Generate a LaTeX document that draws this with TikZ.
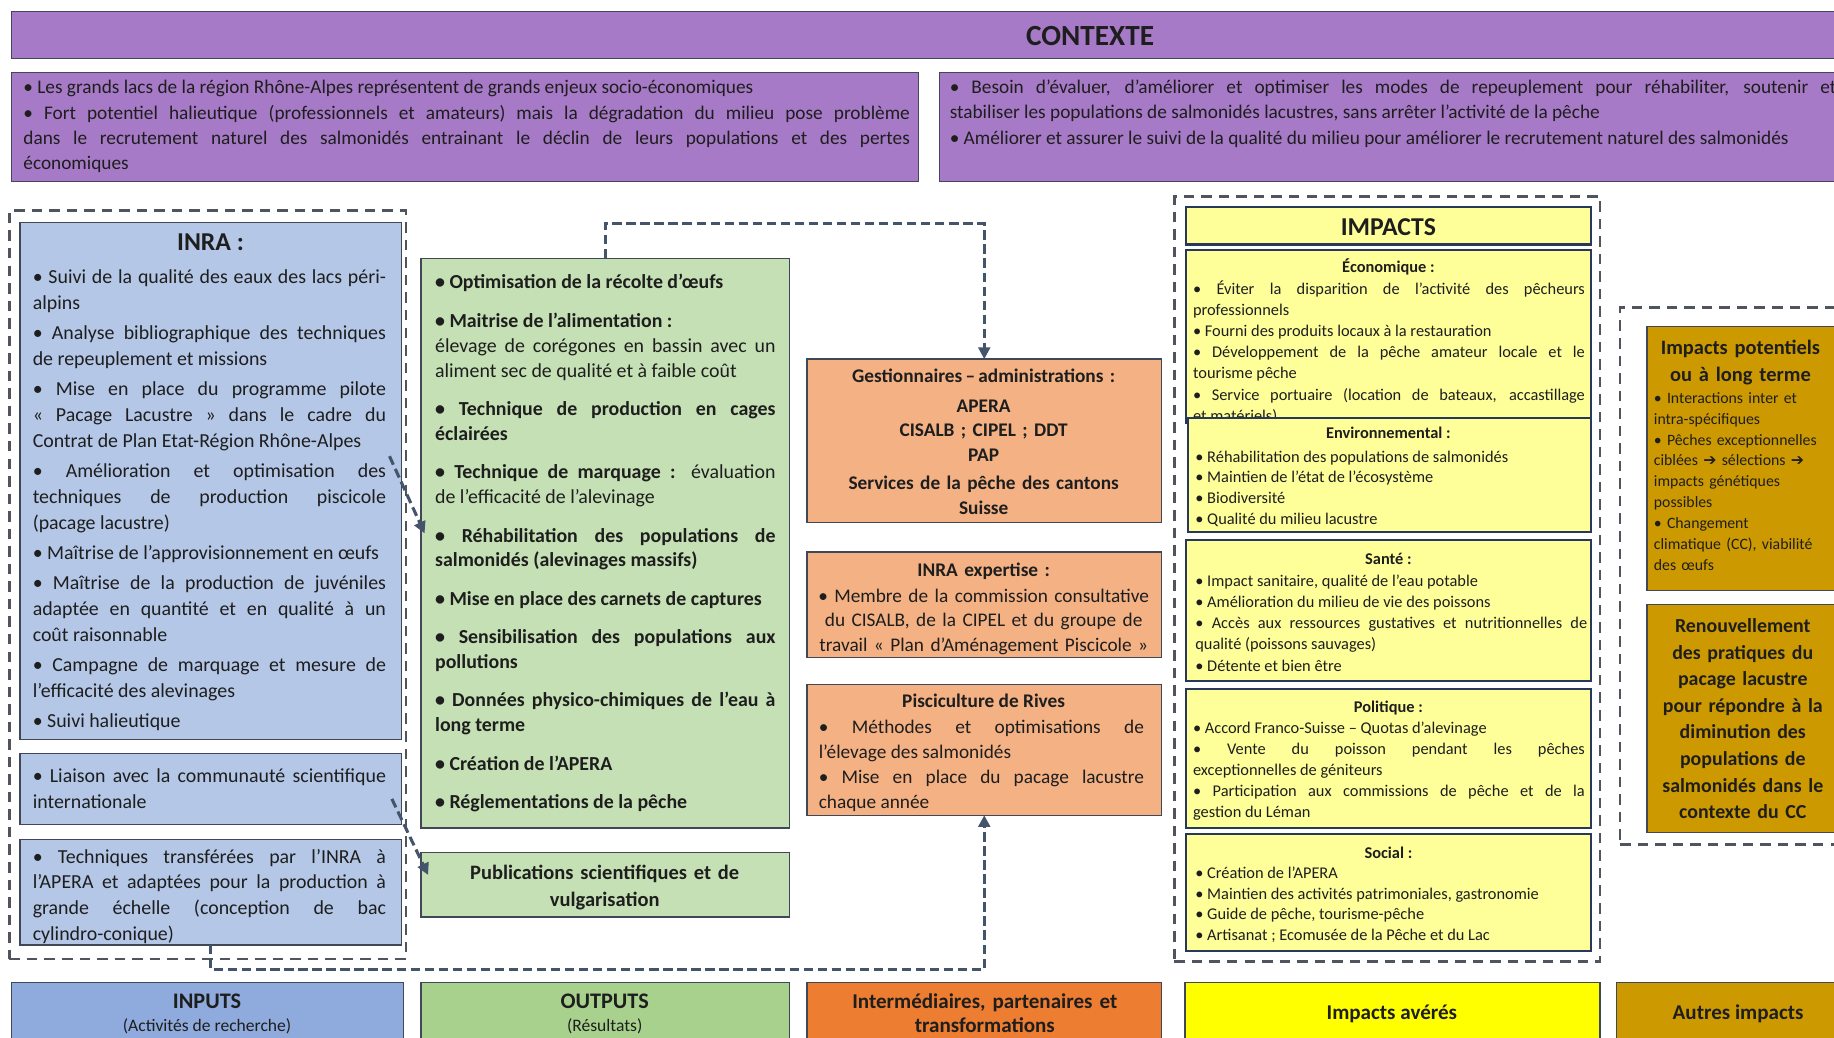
\documentclass[tikz,border=0pt]{standalone}
\usepackage{fontspec}
\setmainfont{Carlito}
\newfontfamily\symfont{DejaVu Sans}
\usetikzlibrary{arrows.meta,calc}
\definecolor{purp}{RGB}{166,122,198}
\definecolor{lblue}{RGB}{180,199,231}
\definecolor{lgreen}{RGB}{197,224,180}
\definecolor{lorange}{RGB}{244,177,131}
\definecolor{lyel}{RGB}{255,255,153}
\definecolor{gold}{RGB}{204,153,0}
\definecolor{inblue}{RGB}{143,170,220}
\definecolor{outgreen}{RGB}{169,209,142}
\definecolor{orangeb}{RGB}{237,125,49}
\definecolor{yel}{RGB}{255,255,0}
\definecolor{edgec}{RGB}{64,72,88}
\definecolor{navy}{RGB}{40,56,90}
\definecolor{dashc}{RGB}{80,84,92}
\definecolor{connc}{RGB}{68,84,106}
\definecolor{txtc}{RGB}{30,30,30}
\newcommand{\fsz}[2]{\fontsize{#1}{#2}\selectfont}
\newcommand{\jset}[3]{\fsz{#1}{#2}\setlength{\parskip}{#3}\tolerance=10000 \hbadness=10000 \hyphenpenalty=10000 \exhyphenpenalty=10000 \relax}
\newcommand{\rbox}[6]{\node[#1,minimum width={(#4)-(#2)},minimum height={(#5)-(#3)}] (#6) at (#2,#3) {};}
\tikzset{
  bx/.style={draw=edgec,line width=1.1pt,anchor=north west,inner sep=0pt,outer sep=0pt},
  ibx/.style={draw=navy,line width=1.8pt,fill=lyel,anchor=north west,inner sep=0pt,outer sep=0pt},
  grp/.style={draw=dashc,line width=2.2pt,dash pattern=on 9pt off 6pt,anchor=north west,inner sep=0pt,outer sep=0pt},
  jtxt/.style={anchor=base west,inner sep=0pt,outer sep=0pt,align=justify,text=txtc},
  ctxt/.style={anchor=base,inner sep=0pt,outer sep=0pt,align=center,text=txtc},
  ltxt/.style={anchor=base west,inner sep=0pt,outer sep=0pt,align=left,text=txtc},
  conn/.style={draw=connc,line width=2.6pt,dash pattern=on 8pt off 4pt},
  tipend/.style={-{Triangle[length=10pt,width=10pt]}},
}
\begin{document}
\begin{tikzpicture}[x=1pt,y=-1pt]
\useasboundingbox (0,0) rectangle (1568,887);
\clip (0,0) rectangle (1568,887);
\fill[white] (0,0) rectangle (1568,887);

% ---------- CONTEXTE ----------
\rbox{bx,fill=purp}{10}{10}{1600}{50}{ctxtitle}
\node[ctxt,font=\bfseries\fsz{25}{30}] (ctxtitle-t) at (932,39) {CONTEXTE};
\rbox{bx,fill=purp}{10}{62}{785}{155}{ctx1}
\rbox{bx,fill=purp}{803}{62}{1600}{155}{ctx2}
\node[jtxt,text width=758] (ctx1-t) at (20,80) {\jset{16.5}{21.3}{1pt}%
• Les grands lacs de la région Rhône-Alpes représentent de grands enjeux socio-économiques\par
• Fort potentiel halieutique (professionnels et amateurs) mais la dégradation du milieu pose problème \linebreak dans le recrutement naturel des salmonidés entrainant le déclin de leurs populations et des pertes \linebreak économiques\par};
\node[jtxt,text width=758] (ctx2-t) at (812,80) {\jset{16.5}{21.3}{1pt}%
• Besoin d’évaluer, d’améliorer et optimiser les modes de repeuplement pour réhabiliter, soutenir et \linebreak stabiliser les populations de salmonidés lacustres, sans arrêter l’activité de la pêche\par
• Améliorer et assurer le suivi de la qualité du milieu pour améliorer le recrutement naturel des salmonidés\par};

% ---------- INPUTS column ----------
\rbox{grp}{8}{180}{347}{820}{grpin}
\rbox{bx,fill=lblue}{17}{190}{343}{632}{inra}
\node[ctxt,font=\bfseries\fsz{22}{26}] (inra-title) at (180,214) {INRA :};
\node[jtxt,text width=302] (inra-t) at (28,242) {\jset{17}{22.2}{3.6pt}%
• Suivi de la qualité des eaux des lacs péri-\linebreak alpins\par
• Analyse bibliographique des techniques \linebreak de repeuplement et missions\par
• Mise en place du programme pilote \linebreak «~Pacage Lacustre~» dans le cadre du \linebreak Contrat de Plan Etat-Région Rhône-Alpes\par
• Amélioration et optimisation des \linebreak techniques de production piscicole \linebreak (pacage lacustre)\par
• Maîtrise de l’approvisionnement en œufs\par
• Maîtrise de la production de juvéniles \linebreak adaptée en quantité et en qualité à un \linebreak coût raisonnable\par
• Campagne de marquage et mesure de \linebreak l’efficacité des alevinages\par
• Suivi halieutique\par};
\rbox{bx,fill=lblue}{17}{644}{343}{705}{liais}
\node[jtxt,text width=302] (liais-t) at (28,669) {\jset{17}{22}{0pt}%
• Liaison avec la communauté scientifique \linebreak internationale\par};
\rbox{bx,fill=lblue}{17}{718}{343}{808}{tech}
\node[jtxt,text width=302] (tech-t) at (28,738) {\jset{17}{22}{0pt}%
• Techniques transférées par l’INRA à \linebreak l’APERA et adaptées pour la production à \linebreak grande échelle (conception de bac \linebreak cylindro-conique)\par};

% ---------- OUTPUTS column ----------
\rbox{bx,fill=lgreen}{360}{221}{675}{708}{outg}
\node[jtxt,text width=291] (outg-t) at (372,247) {\jset{17}{21.3}{11.5pt}%
\textbf{• Optimisation de la récolte d’œufs}\par
\textbf{• Maitrise de l’alimentation :}\newline élevage de corégones en bassin avec un \linebreak aliment sec de qualité et à faible coût\par
\textbf{• Technique de production en cages \linebreak éclairées}\par
\textbf{• Technique de marquage :} évaluation \linebreak de l’efficacité de l’alevinage\par
\textbf{• Réhabilitation des populations de \linebreak salmonidés (alevinages massifs)}\par
\textbf{• Mise en place des carnets de captures}\par
\textbf{• Sensibilisation des populations aux \linebreak pollutions}\par
\textbf{• Données physico-chimiques de l’eau à \linebreak long terme}\par
\textbf{• Création de l’APERA}\par
\textbf{• Réglementations de la pêche}\par};
\rbox{bx,fill=lgreen}{360}{729}{675}{784}{publ}
\node[ctxt,text width=310,font=\bfseries\fsz{17.5}{23}] (publ-t) at (517,752) {Publications scientifiques et de\\vulgarisation};

% ---------- Intermediaires column ----------
\rbox{bx,fill=lorange}{690}{307}{993}{447}{gest}
\node[ctxt,text width=300,font=\bfseries\fsz{16.5}{21.3}] (gest-t) at (841,327) {Gestionnaires\,–\,administrations :\\[4pt]APERA\\CISALB ; CIPEL ; DDT\\PAP\\[2pt]Services de la pêche des cantons\\Suisse};
\rbox{bx,fill=lorange}{690}{472}{993}{562}{expe}
\node[ctxt,text width=300,font=\fsz{16.5}{21}] (expe-t) at (841,493) {\textbf{INRA expertise :}\\[1pt]• Membre de la commission consultative\\du CISALB, de la CIPEL et du groupe de\\travail «~Plan d’Aménagement Piscicole~»};
\rbox{bx,fill=lorange}{690}{585}{993}{697}{pisc}
\node[ctxt,font=\bfseries\fsz{16.5}{21}] (pisc-title) at (841,605) {Pisciculture de Rives};
\node[jtxt,text width=278] (pisc-t) at (700,627) {\jset{16.5}{21.2}{0.5pt}%
• Méthodes et optimisations de \linebreak l’élevage des salmonidés\par
• Mise en place du pacage lacustre \linebreak chaque année\par};

% ---------- IMPACTS column ----------
\rbox{grp}{1004}{168}{1368}{822}{grpimp}
\rbox{ibx}{1014}{177}{1360}{209}{imptit}
\node[ctxt,font=\bfseries\fsz{22}{26}] (imptit-t) at (1187,201) {IMPACTS};
\rbox{ibx}{1014}{214}{1360}{362}{eco}
\node[ctxt,font=\bfseries\fsz{14}{18}] (eco-title) at (1187,233) {Économique :};
\node[jtxt,text width=335] (eco-t) at (1020,252) {\jset{14}{18}{0pt}%
• Éviter la disparition de l’activité des pêcheurs \linebreak professionnels\par
• Fourni des produits locaux à la restauration\par
• Développement de la pêche amateur locale et le \linebreak tourisme pêche\par
• Service portuaire (location de bateaux, accastillage \linebreak et matériels)\par};
\rbox{ibx}{1016}{357}{1360}{455}{env}
\node[ctxt,font=\bfseries\fsz{14}{18}] (env-title) at (1187,375) {Environnemental :};
\node[jtxt,text width=335] (env-t) at (1022,395) {\jset{14}{17.8}{0pt}%
• Réhabilitation des populations de salmonidés\par
• Maintien de l’état de l’écosystème\par
• Biodiversité\par
• Qualité du milieu lacustre\par};
\rbox{ibx}{1014}{462}{1360}{582}{sante}
\node[ctxt,font=\bfseries\fsz{14}{18}] (sante-title) at (1187,483) {Santé :};
\node[jtxt,text width=335] (sante-t) at (1022,501) {\jset{14}{18.2}{0pt}%
• Impact sanitaire, qualité de l’eau potable\par
• Amélioration du milieu de vie des poissons\par
• Accès aux ressources gustatives et nutritionnelles de \linebreak qualité (poissons sauvages)\par
• Détente et bien être\par};
\rbox{ibx}{1014}{589}{1360}{708}{poli}
\node[ctxt,font=\bfseries\fsz{14}{18}] (poli-title) at (1187,609) {Politique :};
\node[jtxt,text width=335] (poli-t) at (1020,627) {\jset{14}{17.9}{0pt}%
• Accord Franco-Suisse – Quotas d’alevinage\par
• Vente du poisson pendant les pêches \linebreak exceptionnelles de géniteurs\par
• Participation aux commissions de pêche et de la \linebreak gestion du Léman\par};
\rbox{ibx}{1014}{713}{1360}{813}{soc}
\node[ctxt,font=\bfseries\fsz{14}{18}] (soc-title) at (1187,734) {Social :};
\node[jtxt,text width=335] (soc-t) at (1022,751) {\jset{14}{17.7}{0pt}%
• Création de l’APERA\par
• Maintien des activités patrimoniales, gastronomie\par
• Guide de pêche, tourisme-pêche\par
• Artisanat ; Ecomusée de la Pêche et du Lac\par};

% ---------- Autres impacts column ----------
\rbox{grp}{1385}{263}{1600}{722}{grpr}
\rbox{bx,fill=gold}{1408}{279}{1600}{505}{pot}
\node[ctxt,text width=180,font=\bfseries\fsz{17.5}{23}] (pot-title) at (1488,303) {Impacts potentiels\\ou à long terme};
\node[ltxt,text width=170,font=\fsz{13.5}{17.8}] (pot-t) at (1414,345) {• Interactions inter et\\intra-spécifiques\\• Pêches exceptionnelles\\ciblées {\symfont ➔} sélections {\symfont ➔}\\impacts génétiques\\possibles\\• Changement\\climatique (CC), viabilité\\des œufs};
\rbox{bx,fill=gold}{1408}{517}{1600}{712}{renou}
\node[ctxt,text width=180,font=\bfseries\fsz{17}{22.7}] (renou-t) at (1490,541) {Renouvellement\\des pratiques du\\pacage lacustre\\pour répondre à la\\diminution des\\populations de\\salmonidés dans le\\contexte du CC};

% ---------- bottom legend row ----------
\rbox{bx,fill=inblue}{10}{840}{345}{900}{inp}
\node[ctxt,font=\bfseries\fsz{19}{22}] (inp-t1) at (177,862) {INPUTS};
\node[ctxt,font=\fsz{15}{18}] (inp-t2) at (177,882) {(Activités de recherche)};
\rbox{bx,fill=outgreen}{360}{840}{675}{900}{outp}
\node[ctxt,font=\bfseries\fsz{19}{22}] (outp-t1) at (517,862) {OUTPUTS};
\node[ctxt,font=\fsz{15}{18}] (outp-t2) at (517,882) {(Résultats)};
\rbox{bx,fill=orangeb}{690}{840}{993}{900}{inter}
\node[ctxt,text width=300,font=\bfseries\fsz{18}{21}] (inter-t) at (842,862) {Intermédiaires, partenaires et\\transformations};
\rbox{bx,fill=yel}{1013}{840}{1368}{900}{avr}
\node[ctxt,font=\bfseries\fsz{18}{21}] (avr-t) at (1190,872) {Impacts avérés};
\rbox{bx,fill=gold}{1382}{840}{1600}{900}{autr}
\node[ctxt,font=\bfseries\fsz{18}{21}] (autr-t) at (1486,872) {Autres impacts};

% ---------- connectors ----------
\draw[conn,tipend] (outg.north) -- ++(0,-30) -| (gest.north);
\draw[conn,tipend] (tech.south) -- ++(0,21) -| (pisc.south);
\coordinate (d1s) at (333,390);
\coordinate (d1e) at (363,456);
\draw[conn,tipend] (d1s) -- (d1e);
\coordinate (d2s) at (335,683);
\coordinate (d2e) at (366,748);
\draw[conn,tipend] (d2s) -- (d2e);
\end{tikzpicture}
\end{document}
